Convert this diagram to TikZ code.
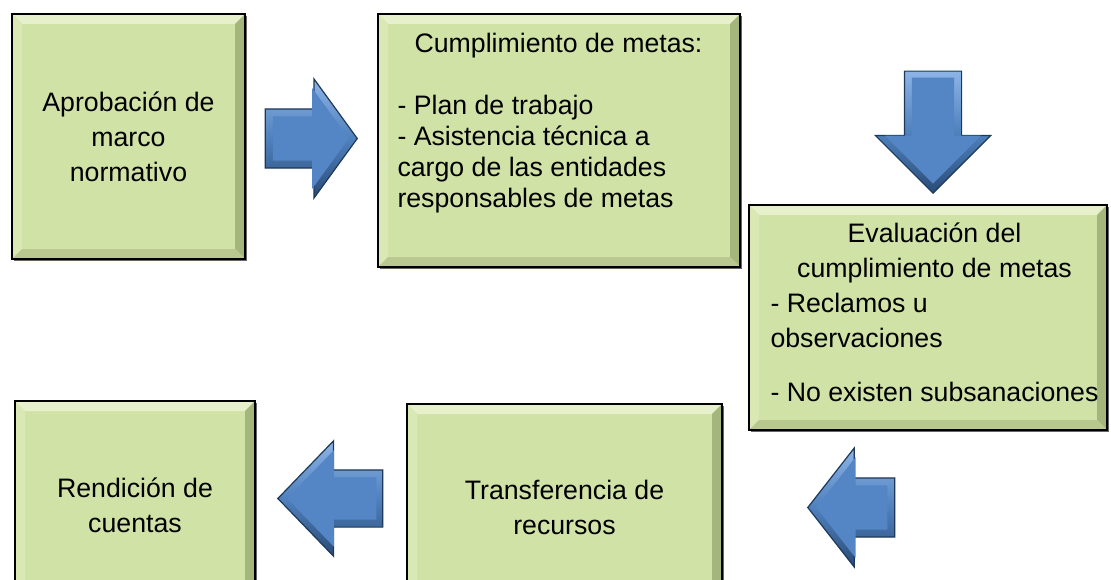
\documentclass[tikz,border=0pt]{standalone}
\usepackage{fontspec}
\setmainfont{Liberation Sans}
\usetikzlibrary{shapes.arrows,shadows}

\definecolor{boxface}{HTML}{D1E2A7}
\definecolor{boxtop}{HTML}{E6F0CA}
\definecolor{boxleft}{HTML}{DAE8B6}
\definecolor{boxright}{HTML}{A5B67C}
\definecolor{boxbottom}{HTML}{B8C88E}
\definecolor{arrhi}{HTML}{8DB4E6}
\definecolor{arrmid}{HTML}{4F81BD}
\definecolor{arrlo}{HTML}{2A4C78}
\definecolor{arrface}{HTML}{5485C4}
\definecolor{arrline}{HTML}{1D3859}

\begin{document}
\begin{tikzpicture}[x=1pt, y=-1pt,
    box/.style={draw=black, line width=1.4pt, fill=boxface, inner sep=0pt,
        font=\fontsize{26.7pt}{35pt}\selectfont, align=center,
        drop shadow={shadow xshift=2pt, shadow yshift=-2pt, fill=black!75, opacity=0.8},
        path picture={
            \path (path picture bounding box.north west) coordinate (pnw)
                  (path picture bounding box.north east) coordinate (pne)
                  (path picture bounding box.south west) coordinate (psw)
                  (path picture bounding box.south east) coordinate (pse);
            \fill[boxtop] (pnw) -- (pne) -- ([shift={(-10pt,-10pt)}]pne) -- ([shift={(10pt,-10pt)}]pnw) -- cycle;
            \fill[boxleft] (pnw) -- (psw) -- ([shift={(10pt,10pt)}]psw) -- ([shift={(10pt,-10pt)}]pnw) -- cycle;
            \fill[boxright] (pne) -- (pse) -- ([shift={(-10pt,10pt)}]pse) -- ([shift={(-10pt,-10pt)}]pne) -- cycle;
            \fill[boxbottom] (psw) -- (pse) -- ([shift={(-10pt,10pt)}]pse) -- ([shift={(10pt,10pt)}]psw) -- cycle;
        }},
    txt/.style={inner sep=0pt, align=left, font=\fontsize{26.7pt}{35pt}\selectfont},
    blockarrow/.style={single arrow, draw=arrline, line width=1.2pt,
        top color=arrhi, bottom color=arrlo, middle color=arrmid,
        inner xsep=0pt, inner ysep=28pt, single arrow head extend=29pt,
        anchor=tip},
    arrowface/.style={single arrow, fill=arrface, draw=none,
        inner xsep=0pt, inner ysep=21pt, single arrow head extend=27pt,
        anchor=tip}]

    \clip (0,0) rectangle (1111,580);

    % boxes
    \node[box, minimum width=233pt, minimum height=245pt] (aprob) at (128.5,136.5)
        {Aprobación de\\marco\\normativo};
    \node[box, minimum width=362pt, minimum height=253pt] (cumpl) at (559,140.5) {};
    \node[txt, anchor=north west, font=\fontsize{26.7pt}{31pt}\selectfont] (cumpltxt)
        at ([shift={(20pt,-20pt)}]cumpl.north west)
        {\makebox[322pt]{Cumplimiento de metas:}\\[31pt]
         - Plan de trabajo\\
         - Asistencia técnica a\\
         cargo de las entidades\\
         responsables de metas};
    \node[box, minimum width=358pt, minimum height=225pt] (eval) at (928,317.5) {};
    \node[txt, anchor=north west] (evaltxt) at ([shift={(22pt,-18pt)}]eval.north west)
        {\makebox[328pt]{Evaluación del}\\
         \makebox[328pt]{cumplimiento de metas}\\
         - Reclamos u\\
         observaciones\\[19pt]
         - No existen subsanaciones};
    \node[box, minimum width=315pt, minimum height=206pt] (transf) at (564.5,507)
        {Transferencia de\\recursos};
    \node[box, minimum width=240pt, minimum height=209pt] (rendic) at (135,505.5)
        {Rendición de\\cuentas};

    % arrows
    \node[blockarrow, minimum height=92pt, minimum width=119pt,
        single arrow tip angle=108] (ar1) at (358,138.5) {};
    \node[arrowface, minimum height=76pt, minimum width=101pt,
        single arrow tip angle=108] (ar1f) at ([xshift=-9pt]ar1.tip) {};

    \node[blockarrow, minimum height=122pt, minimum width=113pt,
        inner xsep=28pt, inner ysep=0pt,
        single arrow tip angle=90, shape border rotate=270] (ar2) at (933,194) {};
    \node[arrowface, minimum height=106pt, minimum width=95pt,
        inner xsep=21pt, inner ysep=0pt,
        single arrow tip angle=90, shape border rotate=270] (ar2f) at ([yshift=10pt]ar2.tip) {};

    \node[blockarrow, minimum height=87pt, minimum width=119pt,
        single arrow tip angle=104, shape border rotate=180] (ar3) at (807,507.5) {};
    \node[arrowface, minimum height=71pt, minimum width=101pt,
        single arrow tip angle=104, shape border rotate=180] (ar3f) at ([xshift=9pt]ar3.tip) {};

    \node[blockarrow, minimum height=105pt, minimum width=113pt,
        single arrow tip angle=92, shape border rotate=180] (ar4) at (277,498.5) {};
    \node[arrowface, minimum height=89pt, minimum width=95pt,
        single arrow tip angle=92, shape border rotate=180] (ar4f) at ([xshift=10pt]ar4.tip) {};

\end{tikzpicture}
\end{document}
